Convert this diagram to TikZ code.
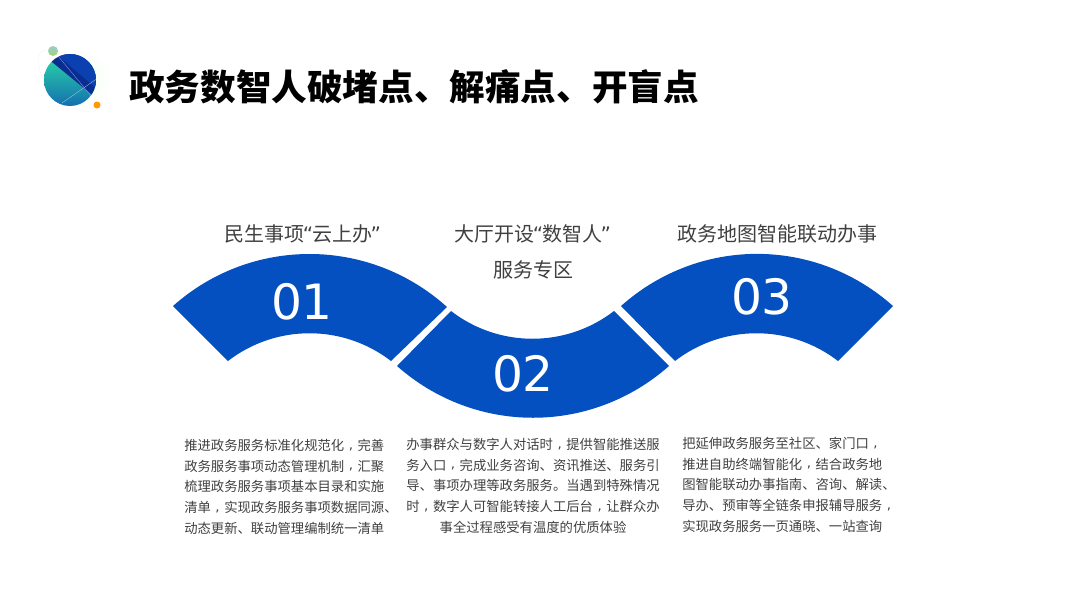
\documentclass[tikz,border=0pt]{standalone}
\usepackage{fontspec}
\setmainfont{Noto Sans CJK SC}
\newfontfamily\numfont{DejaVu Sans}
\newcommand{\cma}{\makebox[1em][c]{\raisebox{0.2ex}{\numfont ,}}}
\newcommand{\openq}{\hspace{-1.5pt}{\numfont “}\hspace{-1pt}}
\newcommand{\closeq}{\hspace{-1pt}{\numfont ”}\hspace{-1.5pt}}
\definecolor{bandblue}{HTML}{0450C0}
\definecolor{bodygray}{HTML}{404040}
\definecolor{planettop}{HTML}{0A40B0}
\definecolor{planetdark}{HTML}{0A2E90}
\definecolor{tealhigh}{HTML}{28C8A8}
\definecolor{teallow}{HTML}{1470B0}
\tikzset{
  band/.style={fill=bandblue, draw=none},
  heading/.style={text=bodygray, font=\fontsize{15}{27}\selectfont, align=center},
  body/.style={text=bodygray, font=\fontsize{10}{15.5}\selectfont, inner sep=0pt},
  num/.style={text=white, font=\numfont\fontsize{36.5}{36}\selectfont}
}
\begin{document}
\begin{tikzpicture}[x=0.75pt, y=-0.75pt]
  \useasboundingbox (0, 0) rectangle (1067, 600);

  % logo
  \shade[inner color=green!6, outer color=white, draw=none] (84, 78) circle (28);
  \draw[black!10, densely dotted] (53, 51) .. controls (30, 45) and (38, 70) .. (48, 90);
  \draw[black!10, densely dotted] (97, 105) .. controls (99, 115) and (85, 112) .. (72, 108);
  \begin{scope}
    \clip (70, 80) circle (26);
    \shade[top color=tealhigh, bottom color=teallow] (44, 62) rectangle (96, 106);
    \fill[planetdark] (44, 54) -- (96, 54) -- (96, 98) -- (52, 62) -- cycle;
    \fill[planettop] (56, 54) -- (96, 54) -- (96, 88) -- cycle;
    \draw[white!65!blue, very thin] (58, 56) -- (92, 97);
    \draw[white!70!teal, very thin] (62, 103) -- (98, 78);
  \end{scope}
  \shade[top color=teal!40!white, bottom color=yellow!50!teal!70!white] (53, 51) circle (5);
  \fill[orange!80!yellow] (97, 105) circle (3.5);

  \node[font=\bfseries\fontsize{26.7}{30}\selectfont, anchor=west, inner sep=0pt] (title) at (129, 87)
    {政务数智人破堵点、解痛点、开盲点};

  % the three bands
  \fill[band] (173, 306) .. controls (251, 236.5) and (369, 236.5) .. (447, 307)
    -- (391, 361) .. controls (343, 324) and (276, 324) .. (228, 361) -- cycle;
  \fill[band] (451, 311) .. controls (499, 348) and (566, 348) .. (614, 311)
    -- (669, 366) .. controls (591, 435) and (475, 435) .. (397, 366) -- cycle;
  \fill[band] (621, 306) .. controls (699, 236.5) and (815, 236.5) .. (893, 306)
    -- (838, 361) .. controls (790, 324) and (723, 324) .. (675, 361) -- cycle;

  \node[num] (numa) at (302, 302) {01};
  \node[num] (numb) at (523, 374) {02};
  \node[num] (numc) at (762, 297) {03};

  \node[heading] (heada) at (302, 234) {民生事项\openq 云上办\closeq};
  \node[heading] (headb) at (533, 252) {大厅开设\openq 数智人\closeq\\服务专区};
  \node[heading] (headc) at (777, 234) {政务地图智能联动办事};

  \node[body, align=left, anchor=north west] (texta) at (184, 439)
    {推进政务服务标准化规范化\cma 完善\\政务服务事项动态管理机制\cma 汇聚\\梳理政务服务事项基本目录和实施\\清单\cma 实现政务服务事项数据同源、\\动态更新、联动管理编制统一清单};
  \node[body, align=center, anchor=north] (textb) at (533, 438)
    {办事群众与数字人对话时\cma 提供智能推送服\\务入口\cma 完成业务咨询、资讯推送、服务引\\导、事项办理等政务服务。当遇到特殊情况\\时\cma 数字人可智能转接人工后台\cma 让群众办\\事全过程感受有温度的优质体验};
  \node[body, align=left, anchor=north west] (textc) at (682, 437)
    {把延伸政务服务至社区、家门口\cma \\推进自助终端智能化\cma 结合政务地\\图智能联动办事指南、咨询、解读、\\导办、预审等全链条申报辅导服务\cma \\实现政务服务一页通晓、一站查询};
\end{tikzpicture}
\end{document}
